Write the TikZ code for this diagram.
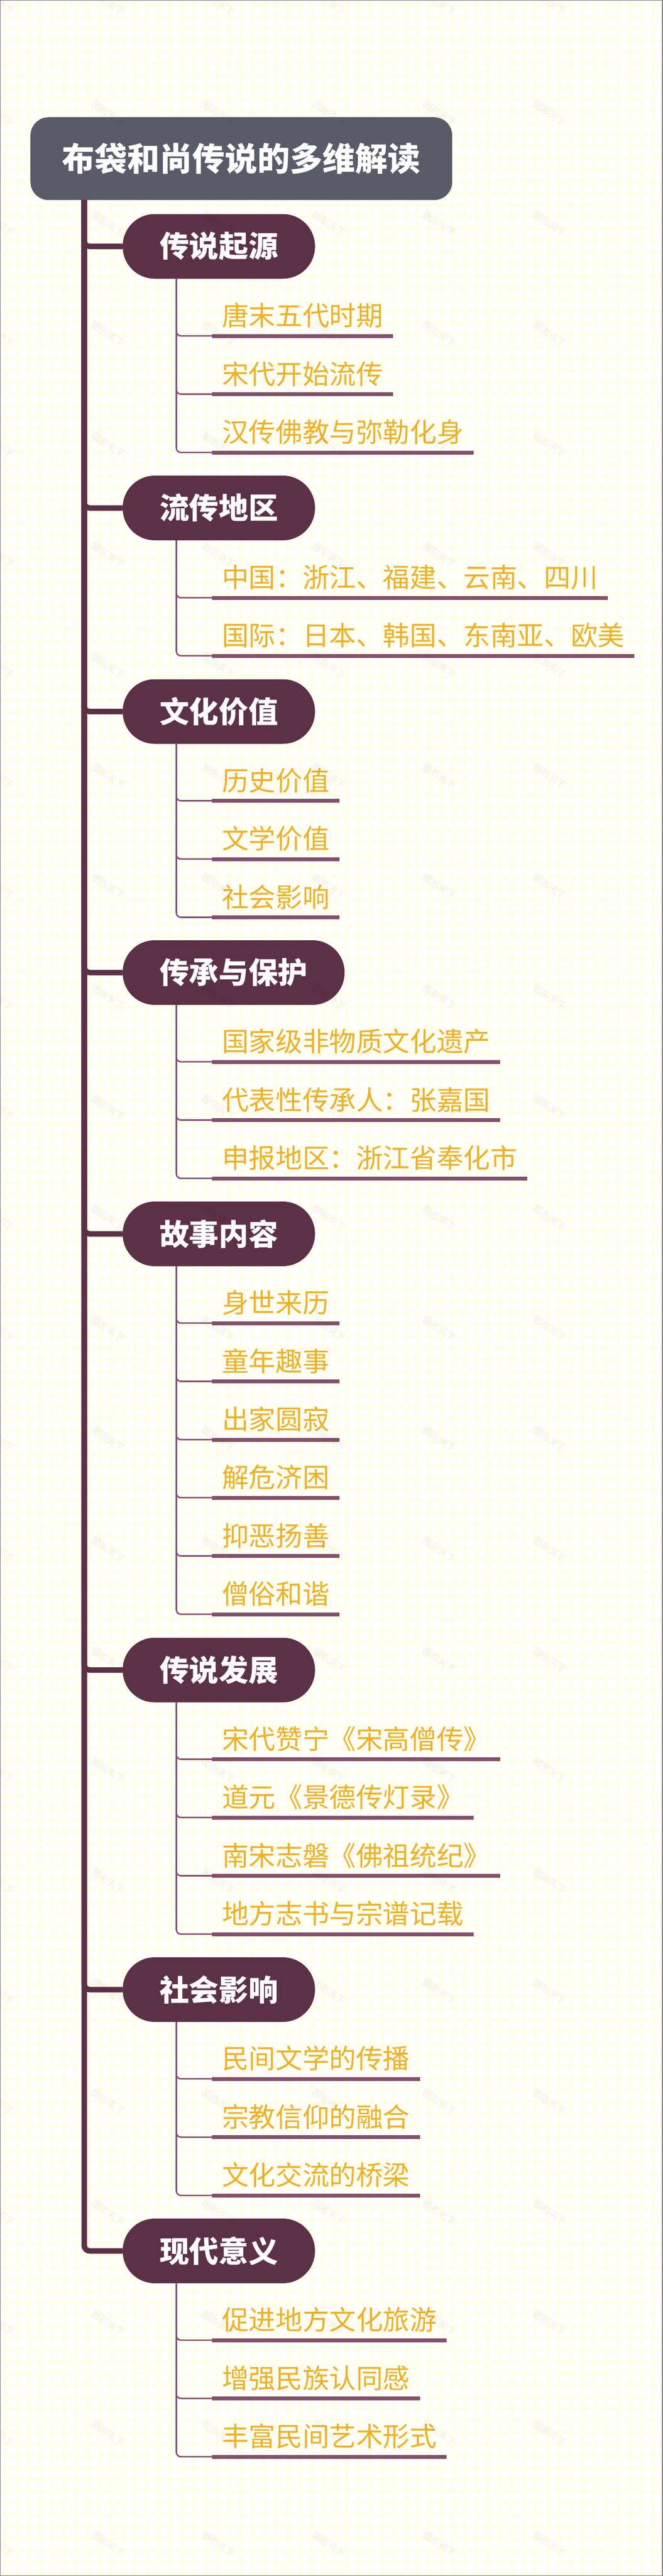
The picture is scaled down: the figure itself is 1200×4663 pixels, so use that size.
\documentclass[tikz,border=0pt]{standalone}
\usepackage{fontspec}
\setmainfont{Noto Sans CJK SC}
\usepackage{tikz}

\definecolor{rootgrey}{HTML}{5A5B69}
\definecolor{plum}{HTML}{5C3146}
\definecolor{mauve}{HTML}{85506A}
\definecolor{amber}{HTML}{F0B023}
\definecolor{paper}{HTML}{FFFFFD}
\definecolor{gridline}{HTML}{FFFFE9}

\tikzset{
    root/.style={fill=rootgrey,text=white,rounded corners=33pt,anchor=north west,minimum width=764pt,minimum height=150pt,inner sep=0pt,font=\fontsize{59}{70}\bfseries},
    topic/.style={fill=plum,text=white,rounded corners=58pt,anchor=west,minimum height=117pt,inner xsep=67pt,inner ysep=0pt,font=\fontsize{53.6}{64}\bfseries},
    leaf/.style={text=amber,anchor=south west,inner xsep=18pt,inner ysep=0pt,text height=38pt,text depth=18pt,font=\fontsize{48.6}{58}\selectfont,
        append after command={(\tikzlastnode.south west) edge[rule] (\tikzlastnode.south east)}},
    rule/.style={draw=mauve,line width=7pt},
    limb/.style={draw=plum,line width=10pt,rounded corners=10pt},
    twig/.style={draw=mauve,line width=2.6pt,rounded corners=8pt},
    stamp/.style={text=black,text opacity=0.04,rotate=-33,inner sep=0pt,font=\fontsize{17}{20}\bfseries}
}

\begin{document}
\begin{tikzpicture}[x=1pt,y=-1pt]
\useasboundingbox (0,0) rectangle (1200,4663);
% paper and its grid
\fill[paper] (0,0) rectangle (1200,4663);
\foreach \gx in {0,...,55}
    \draw[gridline,line width=5pt] ({10+21.33*\gx},0) -- ({10+21.33*\gx},4663);
\foreach \gy in {0,...,218}
    \draw[gridline,line width=5pt] (0,{9+21.33*\gy}) -- (1200,{9+21.33*\gy});
\draw[gray,line width=2pt] (0,0) rectangle (1200,4663);

\node[root] (r) at (55,212) {布袋和尚传说的多维解读};

% topics
\node[topic] (p1) at (222,446) {传说起源};
\node[topic] (p2) at (222,919.5) {流传地区};
\node[topic] (p3) at (222,1288) {文化价值};
\node[topic] (p4) at (222,1760.5) {传承与保护};
\node[topic] (p5) at (222,2233.5) {故事内容};
\node[topic] (p6) at (222,3023) {传说发展};
\node[topic] (p7) at (222,3601.5) {社会影响};
\node[topic] (p8) at (222,4074.5) {现代意义};

% leaves
\node[leaf] (l1a) at (384,608) {唐末五代时期};
\node[leaf] (l1b) at (384,713.5) {宋代开始流传};
\node[leaf] (l1c) at (384,819) {汉传佛教与弥勒化身};

\node[leaf] (l2a) at (384,1082) {中国：浙江、福建、云南、四川};
\node[leaf] (l2b) at (384,1187) {国际：日本、韩国、东南亚、欧美};

\node[leaf] (l3a) at (384,1449.5) {历史价值};
\node[leaf] (l3b) at (384,1555) {文学价值};
\node[leaf] (l3c) at (384,1660.5) {社会影响};

\node[leaf] (l4a) at (384,1922) {国家级非物质文化遗产};
\node[leaf] (l4b) at (384,2027.5) {代表性传承人：张嘉国};
\node[leaf] (l4c) at (384,2133) {申报地区：浙江省奉化市};

\node[leaf] (l5a) at (384,2395) {身世来历};
\node[leaf] (l5b) at (384,2500.5) {童年趣事};
\node[leaf] (l5c) at (384,2606) {出家圆寂};
\node[leaf] (l5d) at (384,2711) {解危济困};
\node[leaf] (l5e) at (384,2816.5) {抑恶扬善};
\node[leaf] (l5f) at (384,2922) {僧俗和谐};

\node[leaf] (l6a) at (384,3184.5) {宋代赞宁《宋高僧传》};
\node[leaf] (l6b) at (384,3290) {道元《景德传灯录》};
\node[leaf] (l6c) at (384,3395.5) {南宋志磐《佛祖统纪》};
\node[leaf] (l6d) at (384,3501) {地方志书与宗谱记载};

\node[leaf] (l7a) at (384,3763) {民间文学的传播};
\node[leaf] (l7b) at (384,3868.5) {宗教信仰的融合};
\node[leaf] (l7c) at (384,3974) {文化交流的桥梁};

\node[leaf] (l8a) at (384,4236) {促进地方文化旅游};
\node[leaf] (l8b) at (384,4341.5) {增强民族认同感};
\node[leaf] (l8c) at (384,4447) {丰富民间艺术形式};

% trunk to the topics
\coordinate (t) at ([xshift=97.5pt]r.south west);
\foreach \p in {p1,p2,p3,p4,p5,p6,p7,p8}
    \draw[limb] (t) |- (\p.west);

% topics to the leaves
\coordinate (s1) at ([xshift=97.5pt]p1.south west);
\coordinate (s2) at ([xshift=97.5pt]p2.south west);
\coordinate (s3) at ([xshift=97.5pt]p3.south west);
\coordinate (s4) at ([xshift=97.5pt]p4.south west);
\coordinate (s5) at ([xshift=97.5pt]p5.south west);
\coordinate (s6) at ([xshift=97.5pt]p6.south west);
\coordinate (s7) at ([xshift=97.5pt]p7.south west);
\coordinate (s8) at ([xshift=97.5pt]p8.south west);
\draw[twig] (s1) |- (l1a.south west) (s1) |- (l1b.south west) (s1) |- (l1c.south west);
\draw[twig] (s2) |- (l2a.south west) (s2) |- (l2b.south west);
\draw[twig] (s3) |- (l3a.south west) (s3) |- (l3b.south west) (s3) |- (l3c.south west);
\draw[twig] (s4) |- (l4a.south west) (s4) |- (l4b.south west) (s4) |- (l4c.south west);
\draw[twig] (s5) |- (l5a.south west) (s5) |- (l5b.south west) (s5) |- (l5c.south west) (s5) |- (l5d.south west) (s5) |- (l5e.south west) (s5) |- (l5f.south west);
\draw[twig] (s6) |- (l6a.south west) (s6) |- (l6b.south west) (s6) |- (l6c.south west) (s6) |- (l6d.south west);
\draw[twig] (s7) |- (l7a.south west) (s7) |- (l7b.south west) (s7) |- (l7c.south west);
\draw[twig] (s8) |- (l8a.south west) (s8) |- (l8b.south west) (s8) |- (l8c.south west);

% faint stamps over everything
\foreach \cx in {0,...,5}
    \foreach \cy in {0,...,23}
        \node[stamp] (w\cx-\cy) at ({-4+200*\cx},{5+200*\cy}) {图形天下};
\end{tikzpicture}
\end{document}
